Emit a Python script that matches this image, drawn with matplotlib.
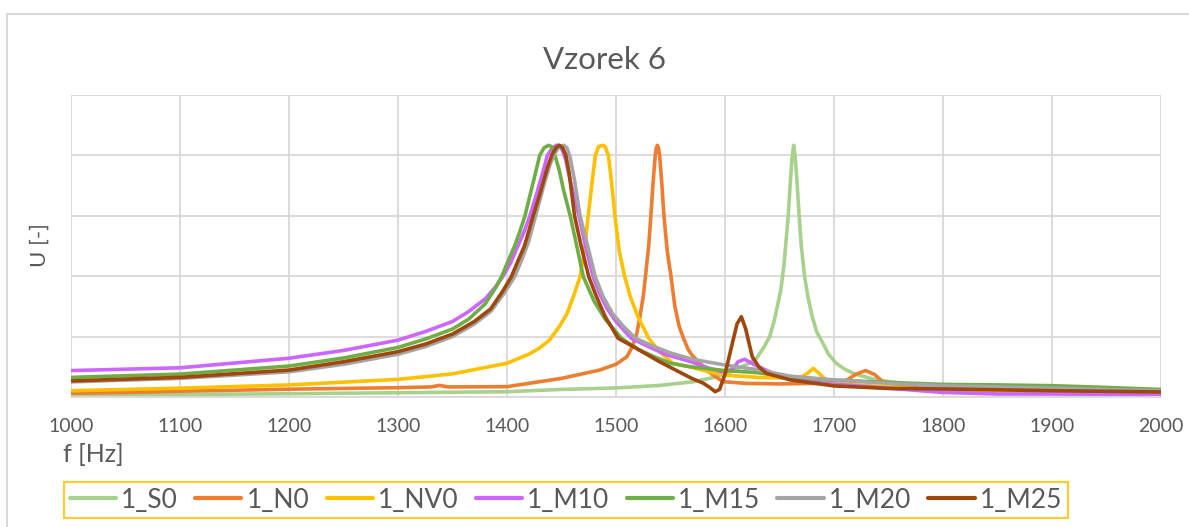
import matplotlib
matplotlib.use("Agg")
import numpy as np
import matplotlib.pyplot as plt
from matplotlib.patches import Rectangle

plt.rcParams['font.family'] = ['Lato', 'DejaVu Sans']

# frekvence [Hz] a normovana amplituda pro kazdy vzorek
f_S0 = [1000, 1100, 1200, 1300, 1400, 1450, 1500, 1540, 1570, 1590, 1600, 1610, 1620, 1629, 1636, 1641, 1645, 1648,
        1651, 1654, 1656, 1658, 1660, 1661.5, 1663, 1664.5, 1666, 1668, 1670, 1673, 1676, 1680, 1684, 1689, 1695,
        1702, 1710, 1720, 1739, 1770, 1800, 1850, 1900, 2000]
u_S0 = [0.008, 0.010, 0.013, 0.017, 0.021, 0.030, 0.036, 0.046, 0.060, 0.078, 0.09, 0.11, 0.13, 0.154, 0.20, 0.24,
        0.30, 0.36, 0.42, 0.52, 0.62, 0.72, 0.86, 0.95, 1.0, 0.95, 0.86, 0.72, 0.60, 0.48, 0.40, 0.32, 0.26, 0.22,
        0.17, 0.134, 0.11, 0.09, 0.068, 0.05, 0.042, 0.04, 0.035, 0.025]

f_N0 = [1000, 1050, 1100, 1200, 1300, 1330, 1338, 1346, 1400, 1450, 1485, 1500, 1510, 1515, 1519, 1522, 1525, 1527,
        1530, 1532, 1534, 1536, 1537, 1538, 1539, 1540, 1542, 1544, 1547, 1550.5, 1554, 1558, 1562, 1566, 1570, 1577,
        1585, 1598, 1620, 1650, 1700, 1712, 1720, 1729, 1737, 1745, 1770, 1800, 1900, 2000]
u_N0 = [0.015, 0.018, 0.023, 0.031, 0.037, 0.040, 0.046, 0.040, 0.041, 0.074, 0.107, 0.13, 0.16, 0.20, 0.25, 0.32,
        0.40, 0.478, 0.60, 0.72, 0.85, 0.96, 0.99, 1.0, 0.99, 0.96, 0.85, 0.72, 0.58, 0.478, 0.36, 0.28, 0.233, 0.19,
        0.165, 0.134, 0.10, 0.061, 0.054, 0.052, 0.055, 0.068, 0.09, 0.105, 0.09, 0.06, 0.04, 0.025, 0.015, 0.01]

f_NV0 = [1000, 1100, 1200, 1300, 1350, 1400, 1420, 1430, 1439, 1448, 1455, 1461, 1467, 1471, 1474.5, 1478, 1481, 1484,
         1488, 1490, 1493, 1496, 1499, 1503, 1508, 1513, 1520, 1530, 1540, 1552, 1568, 1585, 1600, 1630, 1660, 1670,
         1676, 1681, 1686, 1692, 1700, 1750, 1800, 1900, 2000]
u_NV0 = [0.025, 0.035, 0.048, 0.070, 0.092, 0.134, 0.17, 0.195, 0.226, 0.28, 0.33, 0.40, 0.478, 0.58, 0.72, 0.85,
         0.96, 0.995, 1.0, 0.995, 0.96, 0.85, 0.72, 0.58, 0.478, 0.40, 0.32, 0.233, 0.18, 0.134, 0.12, 0.10, 0.087,
         0.078, 0.075, 0.08, 0.095, 0.114, 0.095, 0.07, 0.054, 0.04, 0.025, 0.015, 0.01]

f_M10 = [1000, 1100, 1200, 1250, 1300, 1325, 1350, 1365, 1380, 1390, 1396, 1403, 1410, 1416, 1421, 1426, 1430, 1434,
         1437, 1441, 1445, 1448, 1451, 1454, 1458, 1462, 1466, 1472, 1479, 1485, 1492, 1500, 1514, 1530, 1545, 1568,
         1585, 1598, 1607, 1612, 1618, 1626, 1644, 1690, 1750, 1800, 1850, 1900, 2000]
u_M10 = [0.105, 0.116, 0.154, 0.185, 0.226, 0.26, 0.30, 0.34, 0.39, 0.44, 0.478, 0.53, 0.60, 0.66, 0.72, 0.79, 0.85,
         0.91, 0.96, 0.985, 1.0, 1.0, 0.98, 0.94, 0.86, 0.79, 0.72, 0.60, 0.478, 0.41, 0.35, 0.30, 0.233, 0.20, 0.17,
         0.141, 0.115, 0.10, 0.11, 0.14, 0.15, 0.13, 0.094, 0.054, 0.035, 0.018, 0.012, 0.012, 0.01]

f_M15 = [1000, 1100, 1200, 1250, 1300, 1325, 1350, 1365, 1380, 1389, 1395, 1401, 1407, 1412, 1416.5, 1421, 1425, 1430,
         1434, 1438, 1441, 1444, 1448, 1452, 1458, 1464, 1470, 1480, 1490, 1505, 1520, 1535, 1550, 1568, 1600, 1629,
         1650, 1690, 1750, 1800, 1850, 1900, 1950, 2000]
u_M15 = [0.078, 0.091, 0.123, 0.155, 0.197, 0.23, 0.27, 0.31, 0.37, 0.43, 0.478, 0.54, 0.60, 0.66, 0.72, 0.80, 0.87,
         0.96, 0.99, 1.0, 0.995, 0.96, 0.90, 0.82, 0.72, 0.60, 0.478, 0.38, 0.31, 0.233, 0.19, 0.16, 0.134, 0.12, 0.105,
         0.097, 0.085, 0.069, 0.058, 0.05, 0.048, 0.045, 0.038, 0.03]

f_M20 = [1000, 1100, 1200, 1250, 1300, 1325, 1350, 1370, 1385, 1397, 1407, 1414, 1420, 1425, 1430, 1435, 1440, 1444,
         1448, 1452, 1455, 1458, 1462, 1467, 1474, 1481, 1488, 1497, 1507, 1518, 1535, 1550, 1570, 1600, 1632, 1659,
         1700, 1751, 1800, 1900, 2000]
u_M20 = [0.060, 0.074, 0.100, 0.13, 0.170, 0.20, 0.24, 0.29, 0.34, 0.41, 0.478, 0.55, 0.62, 0.70, 0.78, 0.86, 0.93,
         0.97, 0.995, 1.0, 0.99, 0.95, 0.86, 0.72, 0.60, 0.478, 0.40, 0.33, 0.28, 0.233, 0.20, 0.175, 0.15, 0.127,
         0.107, 0.083, 0.068, 0.054, 0.045, 0.035, 0.025]

f_M25 = [1000, 1100, 1200, 1250, 1300, 1325, 1350, 1370, 1385, 1396, 1404, 1410, 1416, 1420, 1424, 1429, 1433, 1437,
         1441, 1445, 1448, 1451, 1454, 1457, 1462, 1468, 1475, 1482, 1490, 1502, 1516, 1540, 1569, 1580, 1586, 1591,
         1595, 1600, 1606, 1611, 1615, 1619, 1625, 1631, 1638, 1660, 1700, 1750, 1800, 1900, 2000]
u_M25 = [0.064, 0.078, 0.107, 0.14, 0.180, 0.21, 0.25, 0.30, 0.35, 0.42, 0.478, 0.54, 0.60, 0.66, 0.72, 0.79, 0.85,
         0.91, 0.96, 0.99, 1.0, 0.99, 0.96, 0.89, 0.72, 0.60, 0.478, 0.40, 0.32, 0.233, 0.20, 0.14, 0.075, 0.055,
         0.038, 0.021, 0.03, 0.09, 0.20, 0.29, 0.319, 0.27, 0.16, 0.12, 0.094, 0.068, 0.044, 0.034, 0.032, 0.025, 0.02]

serie = [
    ('1_S0', f_S0, u_S0, '#A9D18E'),
    ('1_N0', f_N0, u_N0, '#ED7D31'),
    ('1_NV0', f_NV0, u_NV0, '#FFC000'),
    ('1_M10', f_M10, u_M10, '#CC66FF'),
    ('1_M15', f_M15, u_M15, '#70AD47'),
    ('1_M20', f_M20, u_M20, '#A5A5A5'),
    ('1_M25', f_M25, u_M25, '#9E480E'),
]

text_col = '#595959'
grid_col = '#D9D9D9'

fig = plt.figure(figsize=(11.89, 5.27), dpi=100)
ax = fig.add_axes([71 / 1189, 1 - 397 / 527, (1161 - 71) / 1189, (397 - 95) / 527])

for name, f, u, c in serie:
    ax.plot(f, u, color=c, lw=2.6, label=name, solid_joinstyle='round', solid_capstyle='round')

ax.set_xlim(1000, 2000)
ax.set_ylim(0, 1.2)
ax.set_xticks(range(1000, 2001, 100))
ax.set_yticks(np.linspace(0, 1.2, 6))
ax.set_yticklabels([])
ax.grid(True, color=grid_col, lw=1.3)
ax.set_axisbelow(True)
for s in ['top', 'right', 'left']:
    ax.spines[s].set_visible(False)
ax.spines['bottom'].set_color(grid_col)
ax.spines['bottom'].set_linewidth(1.3)
ax.tick_params(length=0, pad=15, labelsize=14, labelcolor=text_col)

# ramecek grafu
fig.patches.append(Rectangle((7 / 1189, -0.5), 2, 0.5 + 1 - 14 / 527, transform=fig.transFigure,
                             fill=False, edgecolor=grid_col, lw=1.5))

fig.text(0.508, 1 - 60 / 527, 'Vzorek 6', ha='center', va='center', fontsize=22.5, color=text_col)
fig.text(40 / 1189, 1 - 245 / 527, 'U [-]', ha='center', va='center', rotation=90, fontsize=16, color=text_col)
fig.text(63 / 1189, 1 - 455 / 527, 'f [Hz]', ha='left', va='center', fontsize=18, color=text_col)

leg = fig.legend(loc='center', bbox_to_anchor=(566 / 1189, 1 - 500 / 527), ncol=7, fontsize=19,
                 frameon=True, fancybox=False, handlelength=1.75, handletextpad=0.2, columnspacing=0.65,
                 borderpad=0.2, borderaxespad=0, labelcolor=text_col)
leg.get_frame().set_edgecolor('#FFC000')
leg.get_frame().set_linewidth(1.6)
for h in leg.get_lines():
    h.set_linewidth(3)

fig.savefig('out.png', dpi=100)
